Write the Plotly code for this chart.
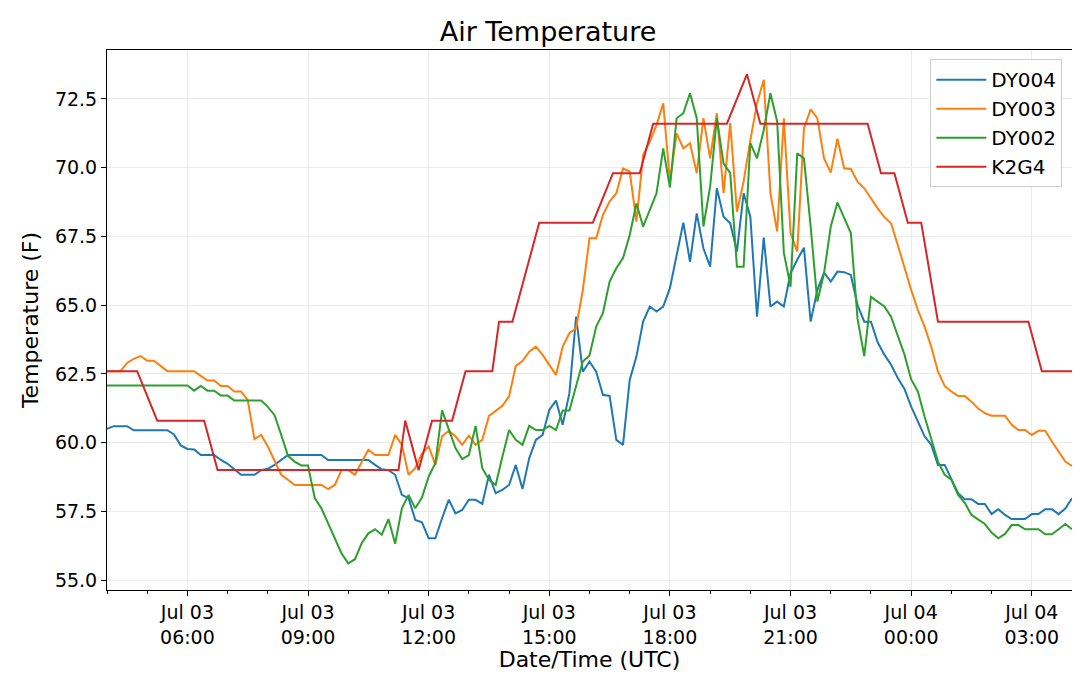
import pandas as pd
import plotly.graph_objects as go

# 10-minute station readings, Jul 03 04:00 UTC -> Jul 04 04:00 UTC
times = pd.date_range("2019-07-03 04:00", periods=145, freq="10min")

dy004 = [
    60.5, 60.6, 60.6, 60.6, 60.45, 60.45, 60.45, 60.45, 60.45, 60.45,
    60.3, 59.9, 59.77, 59.75, 59.55, 59.55, 59.55, 59.37, 59.23, 59.03,
    58.83, 58.83, 58.83, 59.0, 59.05, 59.19, 59.37, 59.55, 59.55, 59.55,
    59.55, 59.55, 59.55, 59.37, 59.37, 59.37, 59.37, 59.37, 59.37, 59.37,
    59.19, 59.03, 59.0, 58.83, 58.1, 57.98, 57.19, 57.1, 56.52, 56.52,
    57.25, 57.92, 57.43, 57.55, 57.92, 57.92, 57.77, 58.83, 58.16, 58.28,
    58.46, 59.19, 58.31, 59.43, 60.1, 60.28, 61.19, 61.53, 60.65, 61.8,
    64.58, 62.58, 62.95, 62.58, 61.74, 61.7, 60.1, 59.92, 62.28, 63.13,
    64.4, 64.95, 64.77, 64.95, 65.62, 66.83, 68.0, 66.58, 68.34, 67.07,
    66.4, 69.25, 68.22, 67.98, 66.95, 69.07, 68.22, 64.58, 67.46, 64.95,
    65.13, 64.95, 66.16, 66.65, 67.09, 64.4, 65.55, 66.18, 65.86, 66.22,
    66.2, 66.1, 65.0, 64.4, 64.4, 63.65, 63.2, 62.83, 62.35, 61.95,
    61.31, 60.77, 60.23, 59.92, 59.19, 59.19, 58.65, 58.16, 57.94, 57.94,
    57.77, 57.77, 57.4, 57.58, 57.37, 57.22, 57.22, 57.22, 57.4, 57.4,
    57.58, 57.58, 57.4, 57.6, 57.98,
]

dy003 = [
    62.6, 62.6, 62.6, 62.9, 63.05, 63.15, 62.98, 62.98, 62.8, 62.6,
    62.6, 62.6, 62.6, 62.6, 62.43, 62.26, 62.26, 62.06, 62.06, 61.86,
    61.86, 61.55, 60.13, 60.28, 59.86, 59.37, 58.83, 58.65, 58.46, 58.46,
    58.46, 58.46, 58.46, 58.31, 58.46, 59.0, 59.0, 58.83, 59.28, 59.74,
    59.55, 59.55, 59.55, 60.28, 59.92, 58.83, 59.07, 59.6, 59.86, 59.19,
    60.23, 60.43, 60.23, 59.92, 60.25, 59.92, 60.1, 60.97, 61.15, 61.34,
    61.68, 62.79, 62.97, 63.31, 63.49, 63.19, 62.83, 62.46, 63.49, 63.98,
    64.16, 65.55, 67.43, 67.43, 68.28, 68.77, 69.07, 69.97, 69.86, 68.04,
    70.46, 70.95, 71.55, 72.34, 69.49, 71.25, 70.7, 70.89, 69.8, 71.8,
    70.34, 71.98, 69.07, 71.62, 68.4, 69.5, 71.0, 72.34, 73.2, 69.07,
    67.68, 71.8, 67.62, 66.95, 71.43, 72.12, 71.8, 70.34, 69.82, 71.05,
    69.98, 69.95, 69.49, 69.25, 68.89, 68.52, 68.2, 67.98, 67.19, 66.34,
    65.55, 64.83, 64.22, 63.49, 62.58, 62.06, 61.86, 61.7, 61.7, 61.49,
    61.24, 61.07, 60.98, 60.98, 60.98, 60.65, 60.46, 60.46, 60.28, 60.43,
    60.43, 60.04, 59.67, 59.31, 59.15,
]

dy002 = [
    62.08, 62.08, 62.08, 62.08, 62.08, 62.08, 62.08, 62.08, 62.08, 62.08,
    62.08, 62.08, 62.08, 61.89, 62.06, 61.89, 61.89, 61.71, 61.71, 61.53,
    61.53, 61.53, 61.53, 61.53, 61.3, 61.0, 60.28, 59.52, 59.31, 59.17,
    59.17, 57.98, 57.61, 57.07, 56.49, 55.97, 55.61, 55.76, 56.34, 56.7,
    56.85, 56.65, 57.22, 56.32, 57.61, 58.1, 57.61, 58.0, 58.77, 59.25,
    61.17, 60.46, 59.8, 59.4, 59.55, 60.61, 59.07, 58.65, 58.46, 59.49,
    60.46, 60.1, 59.92, 60.61, 60.46, 60.46, 60.61, 60.46, 61.17, 61.17,
    62.04, 62.95, 63.17, 64.22, 64.71, 65.86, 66.34, 66.71, 67.55, 68.7,
    67.86, 68.46, 69.07, 70.7, 69.28, 71.8, 71.98, 72.71, 71.8, 67.86,
    69.31, 71.8, 70.16, 69.8, 66.4, 66.4, 70.89, 70.34, 71.37, 72.71,
    71.68, 66.91, 65.67, 70.52, 70.34, 67.86, 65.13, 66.16, 67.86, 68.73,
    68.2, 67.62, 64.5, 63.15, 65.3, 65.13, 64.95, 64.58, 63.9, 63.2,
    62.3, 61.86, 60.95, 60.1, 59.31, 58.83, 58.65, 58.1, 57.81, 57.37,
    57.22, 57.04, 56.73, 56.52, 56.68, 57.0, 57.0, 56.85, 56.85, 56.85,
    56.67, 56.67, 56.85, 57.04, 56.85,
]

# K2G4 airport observations (whole degrees C shown in F)
k2g4_times = [
    "2019-07-03 04:00", "2019-07-03 04:45", "2019-07-03 05:15", "2019-07-03 06:25",
    "2019-07-03 06:45", "2019-07-03 11:15", "2019-07-03 11:25", "2019-07-03 11:45",
    "2019-07-03 12:05", "2019-07-03 12:35", "2019-07-03 12:55", "2019-07-03 13:35",
    "2019-07-03 13:45", "2019-07-03 14:05", "2019-07-03 14:45", "2019-07-03 16:05",
    "2019-07-03 16:35", "2019-07-03 17:15", "2019-07-03 17:35", "2019-07-03 19:25",
    "2019-07-03 19:55", "2019-07-03 20:15", "2019-07-03 22:55", "2019-07-03 23:15",
    "2019-07-03 23:35", "2019-07-03 23:55", "2019-07-04 00:15", "2019-07-04 00:40",
    "2019-07-04 02:55", "2019-07-04 03:15", "2019-07-04 04:00",
]
k2g4 = [
    62.6, 62.6, 60.8, 60.8, 59.0, 59.0, 60.8, 59.0,
    60.8, 60.8, 62.6, 62.6, 64.4, 64.4, 68.0, 68.0,
    69.8, 69.8, 71.6, 71.6, 73.4, 71.6, 71.6, 69.8,
    69.8, 68.0, 68.0, 64.4, 64.4, 62.6, 62.6,
]

y_ticks = [55.0, 57.5, 60.0, 62.5, 65.0, 67.5, 70.0, 72.5]

series = [
    ("DY004", times, dy004, "#1f77b4"),
    ("DY003", times, dy003, "#ff7f0e"),
    ("DY002", times, dy002, "#2ca02c"),
    ("K2G4", k2g4_times, k2g4, "#d62728"),
]

fig = go.Figure()
for name, x, y, color in series:
    fig.add_trace(go.Scatter(x=x, y=y, mode="lines", name=name, legendgroup=name,
                             line=dict(color=color, width=2)))

# the page body adds an 8px offset, so margins are shifted to compensate
font = "DejaVu Sans, Liberation Sans, sans-serif"
fig.update_layout(
    width=1080, height=678,
    margin=dict(l=99, r=16, t=42, b=96, autoexpand=False),
    paper_bgcolor="white", plot_bgcolor="white",
    font=dict(family=font, size=19, color="black"),
    title=dict(text="Air Temperature", x=0.5, xanchor="center",
               y=1 - 24 / 678, yanchor="middle", font=dict(size=27)),
    legend=dict(x=0.99, xanchor="right", y=0.983, yanchor="top",
                bgcolor="rgba(255,255,255,0.85)", bordercolor="#cccccc",
                borderwidth=1, font=dict(size=20), tracegroupgap=0,
                itemwidth=50, entrywidth=118),
)

fig.update_xaxes(
    range=["2019-07-03 04:00", "2019-07-04 04:00"],
    tick0="2019-07-03 00:00", dtick=3 * 3600000,
    tickformat="%b %d<br>%H:%M",
    ticks="outside", ticklen=5, tickcolor="black",
    minor=dict(dtick=3600000, ticks="outside", ticklen=3, tickcolor="black",
               showgrid=False),
    showgrid=True, gridcolor="#ebebeb", gridwidth=1,
    showline=True, linecolor="black", linewidth=1, mirror=True,
    zeroline=False, automargin=False,
    title=dict(text="Date/Time (UTC)", font=dict(size=22), standoff=0),
)
fig.update_yaxes(
    range=[54.64, 74.28],
    tickvals=y_ticks, tickformat=".1f",
    ticks="outside", ticklen=5, tickcolor="black",
    showgrid=True, gridcolor="#ebebeb", gridwidth=1,
    showline=True, linecolor="black", linewidth=1, mirror=True,
    zeroline=False, automargin=False,
    title=dict(text="Temperature (F)", font=dict(size=22), standoff=10),
)

fig.write_html("out.html")
